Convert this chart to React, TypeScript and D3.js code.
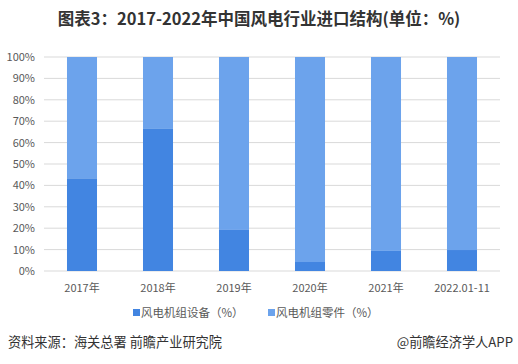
import React from "react";
import * as d3 from "d3";

const categories = ["2017年", "2018年", "2019年", "2020年", "2021年", "2022.01-11"];
const equipment = [43.3, 66.4, 19.2, 4.2, 9.4, 9.8];
const parts = equipment.map((v) => 100 - v);
const yTicks = [0, 10, 20, 30, 40, 50, 60, 70, 80, 90, 100];
const seriesNames = ["风电机组设备（%）", "风电机组零件（%）"];
const colors = ["#4285E1", "#6CA3EC"];

const W = 518;
const H = 364;
const margin = { left: 44, right: 18, top: 57, bottom: 94 };

export default function App() {
  const x = d3
    .scaleBand<string>()
    .domain(categories)
    .range([margin.left, W - margin.right])
    .paddingInner(0.605)
    .paddingOuter(0.3025);
  const y = d3.scaleLinear().domain([0, 100]).range([H - margin.bottom + 1, margin.top]);
  const font = "'Microsoft YaHei', 'Noto Sans CJK SC', sans-serif";
  const bw = x.bandwidth();
  return (
    <svg width={W} height={H} style={{ position: "absolute", left: 0, top: 0, background: "#fff" }}>
      <text x={259} y={25} textAnchor="middle" fontFamily={font} fontWeight="bold" fontSize={16.5} fill="#333">
        图表3：2017-2022年中国风电行业进口结构(单位：%)
      </text>
      {yTicks.map((t) => (
        <g key={t}>
          <line x1={margin.left} x2={W - margin.right} y1={y(t)} y2={y(t)} stroke="#d9d9d9" strokeWidth={1} />
          <text x={35} y={y(t) + 4} textAnchor="end" fontFamily={font} fontSize={11} fill="#595959">
            {t}%
          </text>
        </g>
      ))}
      {categories.map((c, i) => {
        const x0 = x(c) as number;
        return (
          <g key={c}>
            <rect x={x0} y={y(equipment[i] + parts[i])} width={bw} height={y(equipment[i]) - y(equipment[i] + parts[i])} fill={colors[1]} />
            <rect x={x0} y={y(equipment[i])} width={bw} height={y(0) - y(equipment[i])} fill={colors[0]} />
            <text x={x0 + bw / 2} y={292} textAnchor="middle" fontFamily={font} fontSize={11} fill="#595959">
              {c}
            </text>
          </g>
        );
      })}
      {seriesNames.map((s, i) => {
        const lx = i === 0 ? 133 : 268;
        return (
          <g key={s}>
            <rect x={lx} y={309} width={7} height={7} fill={colors[i]} />
            <text x={lx + 8} y={317} fontFamily={font} fontSize={11.5} fill="#595959">
              {s}
            </text>
          </g>
        );
      })}
      <text x={8} y={347} fontFamily={font} fontSize={13.2} fill="#333">
        资料来源：海关总署 前瞻产业研究院
      </text>
      <text x={513} y={347} textAnchor="end" fontFamily={font} fontSize={13.2} fill="#333">
        @前瞻经济学人APP
      </text>
    </svg>
  );
}
